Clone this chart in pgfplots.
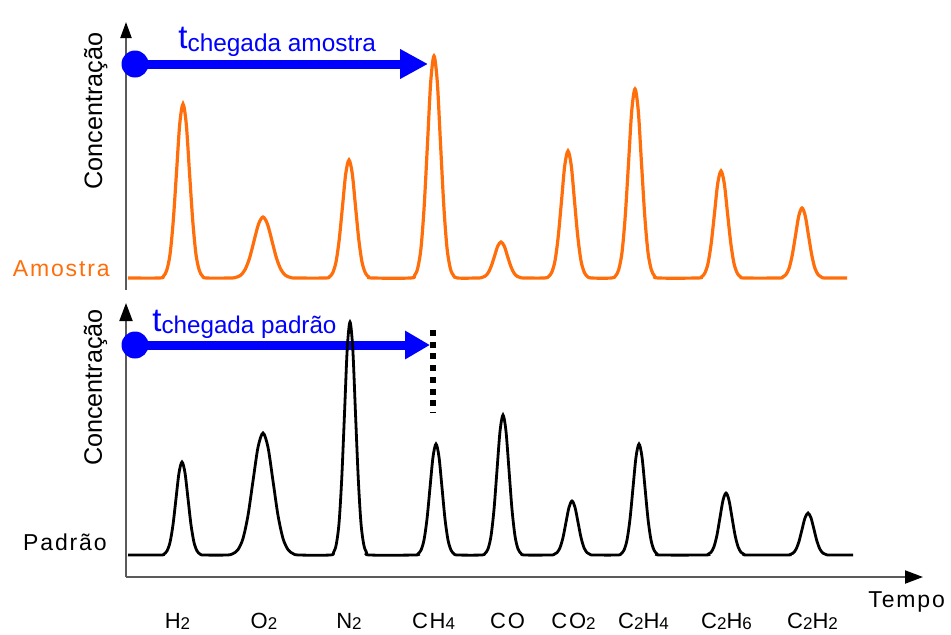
\documentclass[border=0pt]{standalone}
\usepackage{fontspec}
\setmainfont{Liberation Sans}
\newfontfamily\lsfont[LetterSpace=8]{Liberation Sans}
\usepackage{pgfplots}
\pgfplotsset{compat=1.18}
\usetikzlibrary{arrows.meta}
\definecolor{orng}{RGB}{255,110,10}
\definecolor{blu}{RGB}{0,0,255}
\definecolor{axgray}{RGB}{90,90,90}
\newcommand\sub[1]{\raisebox{-0.8pt}{\fontsize{8.5}{9}\selectfont #1}}
\begin{document}
\begin{tikzpicture}
\useasboundingbox (0,0) rectangle (475.5pt,317pt);
\pgfplotsset{
  base/.style={x=0.5pt, y=0.5pt, scale only axis, clip=false, xmin=126, xmax=923,
    ytick=\empty, major tick length=0pt},
}
% ---------------- top panel (Amostra) ----------------
\begin{axis}[base, anchor=south west, at={(63pt,172pt)}, ymin=344, ymax=612,
  axis x line=none, axis y line=left, xtick=\empty,
  axis line style={draw=axgray, line width=1pt, -{Triangle[length=8pt,width=5.5pt,color=black]}}]
\draw[blu, line width=4.5pt, -{Triangle[length=14pt,width=14pt]}] (axis cs:135,570) -- (axis cs:428,570);
\fill[blu] (axis cs:135,570) circle[radius=6.75pt];
\node[anchor=base west, inner sep=0pt, text=blu] at (axis cs:178,586)
  {\fontsize{16.5}{18}\selectfont t\raisebox{-1.7pt}{\fontsize{12.2}{14}\selectfont chegada amostra}};
\addplot[orng, line width=1.6pt, smooth, tension=0.5] coordinates {
(128,356)
(159.6,356) (163.5,357.9) (166.7,363.6) (170,379.5) (173.2,412.5) (176.5,461.5) (179.7,509.6) (183,530) (186.3,509.6) (189.5,461.5) (192.8,412.5) (196,379.5) (199.3,363.6) (202.5,357.9) (206.4,356)
(230.6,356) (236,356.7) (240.5,358.7) (245,364.3) (249.5,375.8) (254,393.0) (258.5,409.8) (263,417) (267.5,409.8) (272,393.0) (276.5,375.8) (281,364.3) (285.5,358.7) (290,356.7) (295.4,356)
(325.6,356) (329.5,357.3) (332.7,361.2) (336,372.0) (339.2,394.3) (342.5,427.6) (345.7,460.1) (349,474) (352.3,460.1) (355.5,427.6) (358.8,394.3) (362,372.0) (365.3,361.2) (368.5,357.3) (372.4,356)
(410.6,356) (414.5,358.5) (417.7,365.7) (421,386.0) (424.2,428.1) (427.5,490.6) (430.7,551.9) (434,578) (437.3,551.9) (440.5,490.6) (443.8,428.1) (447,386.0) (450.3,365.7) (453.5,358.5) (457.4,356)
(477.6,356) (481.5,356.4) (484.7,357.6) (488,360.9) (491.2,367.7) (494.5,377.8) (497.7,387.8) (501,392) (504.3,387.8) (507.5,377.8) (510.8,367.7) (514,360.9) (517.3,357.6) (520.5,356.4) (524.4,356)
(544.6,356) (548.5,357.4) (551.7,361.6) (555,373.2) (558.2,397.2) (561.5,433.0) (564.7,468.1) (568,483) (571.3,468.1) (574.5,433.0) (577.8,397.2) (581,373.2) (584.3,361.6) (587.5,357.4) (591.4,356)
(611.6,356) (615.5,358.1) (618.7,364.3) (622,381.6) (625.2,417.4) (628.5,470.6) (631.7,522.8) (635,545) (638.3,522.8) (641.5,470.6) (644.8,417.4) (648,381.6) (651.3,364.3) (654.5,358.1) (658.4,356)
(697.6,356) (701.5,357.2) (704.7,360.7) (708,370.5) (711.2,390.7) (714.5,420.9) (717.7,450.4) (721,463) (724.3,450.4) (727.5,420.9) (730.8,390.7) (734,370.5) (737.3,360.7) (740.5,357.2) (744.4,356)
(778.6,356) (782.5,356.8) (785.7,359.1) (789,365.5) (792.2,378.7) (795.5,398.5) (798.7,417.8) (802,426) (805.3,417.8) (808.5,398.5) (811.8,378.7) (815,365.5) (818.3,359.1) (821.5,356.8) (825.4,356)
(847,356)
};
\node[anchor=base, rotate=90, inner sep=0pt] at (axis cs:102,523)
  {\fontsize{12.6}{14}\selectfont Concentração};
\node[anchor=base east, inner sep=0pt, text=orng] at (axis cs:110,358)
  {\lsfont\fontsize{11.5}{13}\selectfont Amostra};
\end{axis}
% ---------------- bottom panel (Padrao) ----------------
\begin{axis}[base, anchor=south west, at={(63pt,28.5pt)}, ymin=57, ymax=331,
  axis lines=left,
  axis line style={draw=axgray, line width=1pt, -{Triangle[length=9pt,width=6.5pt,color=black]}},
  xtick={177.5,264,349,433.5,507.5,573.5,643.5,726.5,812.5},
  xticklabels={H\sub{2},O\sub{2},N\sub{2},CH\sub{4},CO,CO\sub{2},C\sub{2}H\sub{4},C\sub{2}H\sub{6},C\sub{2}H\sub{2}},
  xticklabel style={anchor=base, yshift=-25.5pt, inner sep=0pt, font=\lsfont\fontsize{11}{13}\selectfont}]
\draw[blu, line width=4.5pt, -{Triangle[length=12.5pt,width=13.5pt]}] (axis cs:135,289) -- (axis cs:430,289);
\fill[blu] (axis cs:135,289) circle[radius=6.75pt];
\draw[black, line width=3pt, dash pattern=on 3pt off 2.85pt] (axis cs:433,304) -- (axis cs:433,222);
\node[anchor=base west, inner sep=0pt, text=blu] at (axis cs:152,302.3)
  {\fontsize{16.5}{18}\selectfont t\raisebox{-0.8pt}{\fontsize{12.1}{14}\selectfont chegada padrão}};
\addplot[black, line width=1.4pt, smooth, tension=0.5] coordinates {
(128,79)
(160.4,79) (164,80.0) (167,83.1) (170,91.6) (173,109.2) (176,135.4) (179,161.1) (182,172) (185,161.1) (188,135.4) (191,109.2) (194,91.6) (197,83.1) (200,80.0) (203.6,79)
(227,79) (233,80.4) (238,84.4) (243,95.5) (248,118.6) (253,153.0) (258,186.7) (263,201) (268,186.7) (273,153.0) (278,118.6) (283,95.5) (288,84.4) (293,80.4) (299,79)
(330.2,79) (333.5,81.6) (336.2,89.2) (339,110.5) (341.7,154.7) (344.5,220.3) (347.2,284.6) (350,312) (352.8,284.6) (355.5,220.3) (358.3,154.7) (361,110.5) (363.8,89.2) (366.5,81.6) (369.8,79)
(414.4,79) (418,80.2) (421,83.9) (424,94.0) (427,115.0) (430,146.3) (433,177.0) (436,190) (439,177.0) (442,146.3) (445,115.0) (448,94.0) (451,83.9) (454,80.2) (457.6,79)
(481.4,79) (485,80.6) (488,85.1) (491,97.9) (494,124.5) (497,163.9) (500,202.6) (503,219) (506,202.6) (509,163.9) (512,124.5) (515,97.9) (518,85.1) (521,80.6) (524.6,79)
(550.4,79) (554,79.6) (557,81.4) (560,86.3) (563,96.5) (566,111.8) (569,126.7) (572,133) (575,126.7) (578,111.8) (581,96.5) (584,86.3) (587,81.4) (590,79.6) (593.6,79)
(617.4,79) (621,80.2) (624,83.9) (627,94.0) (630,115.0) (633,146.3) (636,177.0) (639,190) (642,177.0) (645,146.3) (648,115.0) (651,94.0) (654,83.9) (657,80.2) (660.6,79)
(704.4,79) (708,79.7) (711,81.7) (714,87.4) (717,99.1) (720,116.6) (723,133.7) (726,141) (729,133.7) (732,116.6) (735,99.1) (738,87.4) (741,81.7) (744,79.7) (747.6,79)
(786.4,79) (790,79.5) (793,80.8) (796,84.7) (799,92.6) (802,104.5) (805,116.1) (808,121) (811,116.1) (814,104.5) (817,92.6) (820,84.7) (823,80.8) (826,79.5) (829.6,79)
(853,79)
};
\node[anchor=base, rotate=90, inner sep=0pt] at (axis cs:102,246.5)
  {\fontsize{12.6}{14}\selectfont Concentração};
\node[anchor=base east, inner sep=0pt] at (axis cs:107,84)
  {\lsfont\fontsize{11.5}{13}\selectfont Padrão};
\node[anchor=base west, inner sep=0pt] at (axis cs:868,27)
  {\lsfont\fontsize{11.5}{13}\selectfont Tempo};
\end{axis}
\end{tikzpicture}
\end{document}
